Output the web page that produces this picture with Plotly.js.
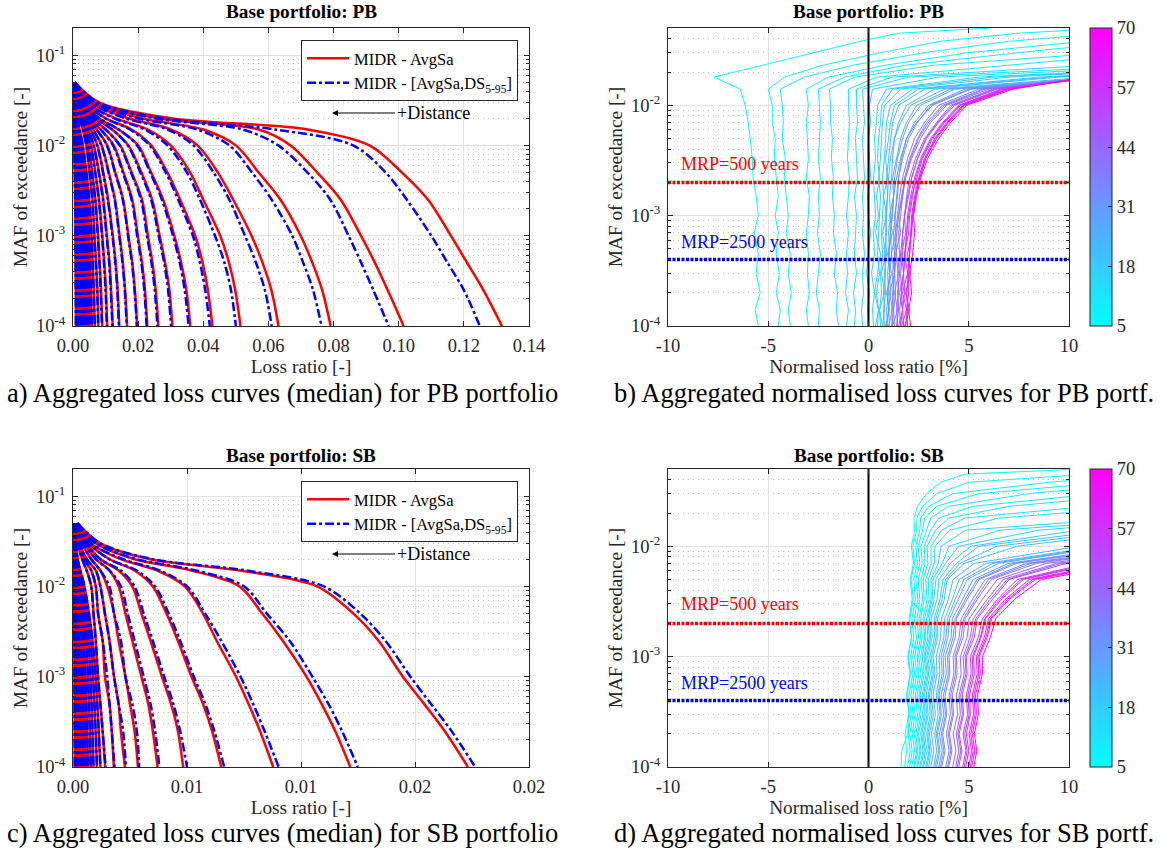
<!DOCTYPE html>
<html><head><meta charset="utf-8">
<script src="https://cdn.plot.ly/plotly-3.0.1.min.js"></script>
<style>html,body{margin:0;padding:0;background:#fff}#chart{width:1169px;height:852px}</style>
</head><body><div id="chart"></div>
<script>
// ================= DATA =================
// Left panels: loss ratio at fixed MAF levels (one array per curve)
const lossMAF   = [0.05, 0.03, 0.02, 0.015, 0.01, 0.005, 0.0025, 0.001, 0.0005, 0.00025, 0.0001];
const bundleMAF = [0.05, 0.02, 0.01, 0.002, 0.0001];

const pbRedCurves = [
  [0.0005,0.008,0.030,0.072,0.091,0.101,0.109,0.116,0.121,0.126,0.1317],
  [0.0005,0.007,0.026,0.057,0.0668,0.075,0.0822,0.0884,0.0927,0.0966,0.1015],
  [0.0005,0.006,0.021,0.040,0.050,0.057,0.0637,0.0699,0.0735,0.0765,0.0791],
  [0.0005,0.005,0.017,0.030,0.0382,0.0445,0.0492,0.0548,0.0582,0.0609,0.0631],
  [0.0004,0.004,0.013,0.023,0.030,0.036,0.040,0.0452,0.0479,0.0498,0.0514],
  [0.0004,0.0035,0.010,0.018,0.024,0.029,0.0329,0.0375,0.0398,0.0414,0.0428],
  [0.0004,0.003,0.008,0.014,0.020,0.024,0.0277,0.0311,0.0332,0.0348,0.036],
  [0.0003,0.0028,0.007,0.012,0.017,0.021,0.0243,0.0266,0.0283,0.0296,0.0305],
  [0.0003,0.0025,0.006,0.010,0.0145,0.018,0.0212,0.023,0.0244,0.0254,0.0262],
  [0.0003,0.0022,0.0052,0.0085,0.0125,0.0155,0.0182,0.0199,0.0212,0.0221,0.0228],
  [0.0003,0.002,0.0045,0.0073,0.0105,0.013,0.0154,0.017,0.0182,0.019,0.0197],
  [0.0003,0.0018,0.004,0.0062,0.0088,0.011,0.0129,0.0143,0.0153,0.016,0.0166],
  [0.0002,0.0016,0.0035,0.0054,0.0075,0.0093,0.0108,0.0122,0.0131,0.0137,0.0142],
  [0.0002,0.0014,0.003,0.0046,0.0064,0.008,0.0093,0.0104,0.0112,0.0117,0.0122],
  [0.0002,0.0012,0.0026,0.004,0.0055,0.0069,0.008,0.009,0.0096,0.0101,0.0105],
  [0.0002,0.0011,0.0023,0.0035,0.0047,0.0059,0.0069,0.0077,0.0082,0.0086,0.009],
  [0.0002,0.001,0.002,0.003,0.0041,0.0051,0.006,0.0066,0.0071,0.0075,0.0078]
];
const pbBlueCurves = [
  [0.0005,0.0075,0.028,0.062,0.086,0.096,0.1025,0.110,0.115,0.120,0.1249],
  [0.0005,0.007,0.025,0.052,0.063,0.072,0.079,0.0846,0.0885,0.0922,0.0969],
  [0.0005,0.006,0.020,0.038,0.048,0.055,0.061,0.0673,0.0707,0.0737,0.0763],
  [0.0005,0.005,0.016,0.029,0.037,0.0432,0.048,0.0528,0.0562,0.0589,0.061],
  [0.0004,0.004,0.0125,0.022,0.029,0.035,0.039,0.0436,0.0465,0.0485,0.050],
  [0.0004,0.0035,0.0098,0.0175,0.0235,0.0285,0.0323,0.0368,0.039,0.0406,0.042],
  [0.0004,0.003,0.008,0.014,0.0197,0.0237,0.0273,0.0307,0.0328,0.0343,0.0355],
  [0.0003,0.0028,0.007,0.012,0.0168,0.0207,0.024,0.0263,0.028,0.0292,0.0301],
  [0.0003,0.0025,0.006,0.010,0.0143,0.0178,0.0209,0.0227,0.0241,0.0251,0.0259],
  [0.0003,0.0022,0.0052,0.0085,0.0123,0.0153,0.018,0.0197,0.021,0.0219,0.0226],
  [0.0003,0.002,0.0045,0.0072,0.0104,0.0129,0.0153,0.0169,0.0181,0.0189,0.0196],
  [0.0003,0.0018,0.004,0.0062,0.0087,0.0109,0.0128,0.0142,0.0152,0.0159,0.0165],
  [0.0002,0.0016,0.0035,0.0054,0.0074,0.0092,0.0107,0.0121,0.013,0.0136,0.0141],
  [0.0002,0.0014,0.003,0.0046,0.0063,0.0079,0.0092,0.0103,0.0111,0.0116,0.0121],
  [0.0002,0.0012,0.0026,0.004,0.0054,0.0068,0.0079,0.0089,0.0095,0.01,0.0104],
  [0.0002,0.0011,0.0023,0.0035,0.0047,0.0058,0.0068,0.0076,0.0081,0.0085,0.0089],
  [0.0002,0.001,0.002,0.003,0.0041,0.0051,0.0059,0.0065,0.007,0.0074,0.0077]
];
const pbBundleCurves = [
  [0.0002,0.0013,0.003,0.0052,0.0067],
  [0.0002,0.0011,0.0026,0.0045,0.0058],
  [0.0002,0.001,0.0023,0.004,0.0051],
  [0.0001,0.0009,0.002,0.0035,0.0045],
  [0.0001,0.0008,0.0018,0.0031,0.004],
  [0.0001,0.0007,0.0016,0.0028,0.0036],
  [0.0001,0.0006,0.0014,0.0025,0.0032],
  [0.0001,0.0006,0.0013,0.0023,0.0029],
  [0.0001,0.0005,0.0012,0.002,0.0026],
  [0.0001,0.0005,0.001,0.0018,0.0023],
  [0.0001,0.0004,0.0009,0.0016,0.0021],
  [0.0001,0.0004,0.0009,0.0015,0.0019],
  [0.0001,0.0003,0.0008,0.0013,0.0017],
  [0.0001,0.0003,0.0007,0.0012,0.0015],
  [0.0001,0.0003,0.0006,0.001,0.0013],
  [0.0001,0.0002,0.0005,0.0009,0.0011],
  [0.0001,0.0002,0.0004,0.0007,0.0009]
];
const sbRedCurves = [
  [0.0002,0.0012,0.0034,0.0073,0.0107,0.0123,0.0134,0.01447,0.0154,0.0163,0.01732],
  [0.0002,0.001,0.0027,0.0052,0.0073,0.0083,0.0092,0.01024,0.0109,0.0115,0.01216],
  [0.0002,0.0008,0.0021,0.0037,0.0049,0.0057,0.0063,0.00715,0.0077,0.0082,0.00878],
  [0.00015,0.0007,0.0016,0.0027,0.0035,0.0041,0.0046,0.0052,0.0057,0.0061,0.0065],
  [0.00015,0.0006,0.0012,0.002,0.0026,0.003,0.0034,0.0039,0.0043,0.0046,0.00483],
  [0.0001,0.0005,0.001,0.0016,0.002,0.0023,0.0026,0.003,0.0033,0.0035,0.00371],
  [0.0001,0.0004,0.0008,0.0012,0.0015,0.0018,0.002,0.0023,0.0025,0.0027,0.00285],
  [0.0001,0.0003,0.0006,0.001,0.0012,0.0014,0.0016,0.0018,0.002,0.0021,0.00228],
  [0.0001,0.0003,0.0005,0.0008,0.001,0.0011,0.0013,0.0014,0.0016,0.0017,0.00179],
  [0.0001,0.0002,0.0004,0.0006,0.0008,0.0009,0.001,0.0011,0.0012,0.0013,0.00141]
];
const sbBlueCurves = [
  [0.0002,0.0012,0.0035,0.0076,0.011,0.0126,0.0137,0.0148,0.0157,0.0166,0.01764],
  [0.0002,0.001,0.0028,0.0054,0.0075,0.0085,0.0095,0.0105,0.0112,0.0118,0.01249],
  [0.0002,0.0008,0.0022,0.0038,0.005,0.0058,0.0065,0.00735,0.0079,0.0084,0.00902],
  [0.00015,0.0007,0.0016,0.0028,0.0036,0.0042,0.0047,0.0053,0.0058,0.0062,0.00663],
  [0.00015,0.0006,0.0012,0.0021,0.0027,0.0031,0.0035,0.004,0.0044,0.0047,0.005],
  [0.0001,0.0005,0.001,0.0016,0.0021,0.0024,0.0027,0.0031,0.0034,0.0036,0.00379],
  [0.0001,0.0004,0.0008,0.0012,0.0016,0.0018,0.0021,0.0023,0.0026,0.0028,0.0029],
  [0.0001,0.0003,0.0006,0.001,0.0012,0.0014,0.0016,0.0018,0.002,0.0022,0.00232],
  [0.0001,0.0003,0.0005,0.0008,0.001,0.0011,0.0013,0.0015,0.0016,0.0017,0.00182],
  [0.0001,0.0002,0.0004,0.0006,0.0008,0.0009,0.001,0.0011,0.0012,0.0013,0.00143]
];
const sbBundleCurves = [
  [0.00005,0.0002,0.0005,0.0009,0.0012],
  [0.00005,0.0002,0.00045,0.0008,0.00105],
  [0.00005,0.00017,0.0004,0.0007,0.0009],
  [0.00004,0.00015,0.00035,0.0006,0.00078],
  [0.00004,0.00013,0.0003,0.0005,0.00066],
  [0.00004,0.00011,0.00025,0.00043,0.00056],
  [0.00003,0.0001,0.00021,0.00036,0.00047],
  [0.00003,0.00008,0.00018,0.0003,0.00039],
  [0.00003,0.00007,0.00015,0.00025,0.00032],
  [0.00002,0.00005,0.00012,0.0002,0.00025],
  [0.00002,0.00004,0.00009,0.00015,0.00019],
  [0.00002,0.00003,0.00006,0.0001,0.00013],
  [0.00001,0.00002,0.00004,0.00006,0.00008]
];

// Right panels: normalised loss ratio [%] at fixed MAF levels, one curve per distance [km]
const normMAF  = [1e-4,1.4e-4,2e-4,3e-4,4.5e-4,7e-4,1e-3,1.5e-3,2.2e-3,3.3e-3,5e-3,7e-3,0.01,0.014,0.018,0.023,0.03,0.038,0.045,0.05];
const distances = [5,6,7,8,9,10,11,12,13,14,15,16,17,19,20,21,23,25,27,28,31,33,34,37,39,40,43,46,48,50,54,56,58,62,64,66,70];
const pbNormCurves = [
  [-5.5,-5.65,-5.4,-5.6,-5.5,-5.7,-5.5,-5.6,-5.75,-5.8,-5.9,-6.0,-6.15,-6.4,-7.7,-5.3,-2.8,-0.4,1.5,6.0],
  [-4.5,-4.4,-4.6,-4.45,-4.6,-4.5,-4.65,-4.5,-4.6,-4.7,-4.65,-4.8,-4.8,-5.0,-4.2,-2.3,0.6,3.6,7.5,12.0],
  [-3.9,-4.0,-3.85,-4.0,-3.9,-4.1,-4.0,-4.1,-4.2,-4.15,-4.3,-4.25,-4.3,-4.4,-3.2,-0.8,2.8,7.0,12.0],
  [-3.0,-3.1,-2.95,-3.05,-3.0,-3.1,-3.0,-2.95,-3.1,-3.0,-3.05,-3.1,-3.0,-3.1,-2.0,0.8,5.0,10.8],
  [-2.5,-2.45,-2.6,-2.5,-2.4,-2.55,-2.45,-2.5,-2.4,-2.5,-2.45,-2.4,-2.45,-2.5,-1.2,1.8,7.5,13.0],
  [-1.5,-1.6,-1.55,-1.7,-1.6,-1.75,-1.7,-1.8,-1.75,-1.85,-1.8,-1.9,-1.9,-1.95,-0.7,3.2,12.0],
  [-1.1,-1.0,-1.15,-1.05,-1.1,-1.0,-1.1,-1.0,-0.95,-1.05,-1.0,-0.95,-1.0,-1.0,0.4,7.0,14.0],
  [-0.7,-0.65,-0.75,-0.6,-0.7,-0.65,-0.6,-0.7,-0.55,-0.6,-0.65,-0.55,-0.6,-0.6,1.2,11.0],
  [-0.3,-0.35,-0.25,-0.3,-0.2,-0.3,-0.25,-0.3,-0.2,-0.25,-0.3,-0.2,-0.25,-0.3,2.0,14.0],
  [0.0,-0.05,0.05,-0.1,0.0,0.1,0.0,-0.05,0.1,0.05,0.0,0.1,0.05,0.2,3.5,16.0],
  [0.25,0.2,0.3,0.15,0.3,0.25,0.35,0.3,0.25,0.35,0.3,0.4,0.45,0.9,5.5,18.0],
  [0.35,0.5,0.3,0.45,0.6,0.35,0.5,0.4,0.55,0.45,0.5,0.6,0.65,1.2,6.2,18.0],
  [0.45,0.5,0.4,0.55,0.45,0.5,0.55,0.6,0.5,0.6,0.65,0.7,0.8,1.6,7.0,18.0],
  [0.6,0.55,0.65,0.6,0.7,0.65,0.7,0.75,0.7,0.8,0.85,0.9,1.1,2.2,8.5,20.0],
  [0.7,0.55,0.8,0.65,0.85,0.7,0.9,0.75,0.95,0.85,1.0,1.1,1.3,2.5,9.0,21.0],
  [0.8,0.75,0.85,0.8,0.9,0.85,0.9,0.95,0.9,1.0,1.1,1.2,1.5,2.8,9.5,22.0],
  [0.95,0.9,1.0,0.95,1.05,1.0,1.1,1.05,1.15,1.2,1.3,1.5,1.9,3.3,11.0],
  [0.7,0.8,0.75,0.85,0.8,0.9,0.85,0.95,1.0,1.1,1.3,1.6,2.1,3.8,11.5],
  [0.85,1.05,0.9,1.15,0.95,1.2,1.05,1.25,1.2,1.4,1.6,1.9,2.4,4.1,12.0],
  [1.05,1.0,1.1,1.05,1.15,1.1,1.2,1.25,1.3,1.45,1.7,2.0,2.6,4.3,12.0],
  [1.2,1.15,1.25,1.2,1.3,1.25,1.35,1.4,1.5,1.65,1.9,2.3,3.0,4.8,12.0],
  [1.0,1.2,1.05,1.3,1.15,1.35,1.3,1.45,1.5,1.7,2.0,2.45,3.1,5.0,12.0],
  [0.9,1.0,0.95,1.05,1.0,1.1,1.15,1.25,1.4,1.6,1.9,2.4,3.2,5.1,12.0],
  [1.3,1.25,1.35,1.3,1.4,1.35,1.45,1.55,1.7,1.95,2.3,2.8,3.5,5.5,12.0],
  [1.2,1.45,1.3,1.5,1.35,1.6,1.5,1.7,1.8,2.05,2.45,2.9,3.7,5.7,12.0],
  [1.45,1.4,1.5,1.45,1.55,1.5,1.6,1.7,1.85,2.1,2.5,3.0,3.8,5.8,12.0],
  [1.15,1.25,1.2,1.3,1.3,1.4,1.5,1.65,1.85,2.15,2.6,3.1,3.9,6.0,11.5],
  [1.6,1.55,1.65,1.6,1.7,1.7,1.8,1.9,2.05,2.35,2.8,3.4,4.1,6.2,11.5],
  [1.5,1.7,1.55,1.75,1.65,1.85,1.8,2.0,2.15,2.45,2.85,3.45,4.2,6.3,11.5],
  [1.4,1.5,1.45,1.55,1.6,1.7,1.8,1.95,2.15,2.45,2.9,3.5,4.3,6.4,11.5],
  [1.75,1.7,1.8,1.75,1.85,1.9,1.95,2.1,2.3,2.6,3.1,3.7,4.5,6.6,11.0],
  [1.65,1.9,1.7,1.95,1.8,2.0,2.05,2.2,2.35,2.65,3.15,3.75,4.55,6.7,11.0],
  [1.6,1.7,1.65,1.75,1.8,1.9,2.0,2.15,2.4,2.7,3.2,3.8,4.6,6.8,11.0],
  [1.95,1.9,2.0,1.95,2.05,2.1,2.15,2.3,2.5,2.8,3.3,3.9,4.7,6.9,11.0],
  [1.8,2.05,1.85,2.1,1.95,2.15,2.2,2.35,2.55,2.85,3.35,3.95,4.75,7.0,11.0],
  [1.85,1.95,1.9,2.0,2.05,2.15,2.2,2.35,2.55,2.85,3.4,4.0,4.8,7.0,11.0],
  [2.1,2.0,2.15,2.05,2.2,2.3,2.25,2.4,2.6,2.95,3.5,4.1,4.9,7.2,11.0]
];
const sbNormCurves = [
  [1.62,1.66,1.95,2.05,1.9,2.08,1.95,2.15,2.02,2.18,2.08,2.24,2.14,2.3,2.26,2.45,2.9,3.6,4.8,10.5],
  [1.8,1.9,1.82,2.02,1.9,2.1,2.0,2.14,2.06,2.24,2.12,2.3,2.22,2.4,2.42,2.7,3.4,5.0,11.0],
  [1.95,2.08,1.98,2.12,2.02,2.22,2.1,2.26,2.16,2.34,2.26,2.44,2.36,2.56,2.6,3.0,4.2,9.0,14.0],
  [2.05,2.18,2.06,2.22,2.12,2.3,2.2,2.4,2.28,2.46,2.36,2.56,2.48,2.7,2.8,3.4,5.5,12.0],
  [2.15,2.3,2.18,2.32,2.22,2.42,2.3,2.5,2.42,2.56,2.48,2.68,2.62,2.9,3.1,4.0,8.0,14.0],
  [2.25,2.4,2.28,2.44,2.34,2.52,2.42,2.6,2.52,2.7,2.62,2.82,2.78,3.1,3.5,5.2,11.5],
  [2.3,2.46,2.36,2.54,2.42,2.62,2.5,2.68,2.6,2.78,2.72,2.96,2.92,3.35,4.0,7.0,14.0],
  [2.4,2.56,2.44,2.62,2.52,2.7,2.6,2.8,2.72,2.92,2.86,3.12,3.12,3.65,4.8,11.0],
  [2.45,2.62,2.5,2.7,2.58,2.78,2.68,2.86,2.8,3.02,2.98,3.28,3.32,4.05,6.5,14.0],
  [2.55,2.72,2.6,2.78,2.68,2.88,2.76,2.96,2.9,3.12,3.12,3.48,3.62,4.85,13.0],
  [2.6,2.78,2.66,2.84,2.74,2.94,2.82,3.04,2.96,3.18,3.22,3.68,4.02,6.55,15.0],
  [2.7,2.84,2.74,2.92,2.8,3.0,2.9,3.1,3.04,3.26,3.36,3.84,4.5,8.5,16.0],
  [2.75,2.92,2.8,2.98,2.88,3.08,2.96,3.18,3.12,3.42,3.52,4.08,5.1,10.5],
  [2.85,3.02,2.9,3.08,2.98,3.18,3.06,3.3,3.28,3.56,3.72,4.38,5.5,12.0],
  [2.92,3.06,2.96,3.16,3.04,3.24,3.14,3.38,3.36,3.66,3.84,4.56,6.4,13.0],
  [3.0,3.14,3.04,3.24,3.12,3.32,3.22,3.46,3.44,3.78,3.92,4.78,7.4,14.0],
  [3.1,3.26,3.14,3.34,3.22,3.42,3.38,3.6,3.64,3.98,4.22,5.28,10.5],
  [3.25,3.4,3.3,3.48,3.38,3.56,3.52,3.76,3.8,4.18,4.52,5.88,11.5],
  [3.32,3.5,3.38,3.58,3.46,3.68,3.62,3.86,3.94,4.32,4.76,6.2,11.8],
  [3.4,3.56,3.44,3.64,3.52,3.76,3.72,3.96,4.04,4.48,4.92,6.48,12.0],
  [3.5,3.68,3.54,3.76,3.62,3.88,3.82,4.12,4.18,4.68,5.22,6.98,13.0],
  [3.58,3.76,3.64,3.84,3.74,3.98,3.94,4.22,4.32,4.82,5.42,7.2,13.2],
  [3.65,3.82,3.7,3.9,3.82,4.06,4.02,4.32,4.38,4.92,5.52,7.38,13.5],
  [3.85,4.02,3.88,4.08,4.02,4.26,4.22,4.52,4.62,5.18,5.82,7.88,14.0],
  [3.94,4.1,3.98,4.18,4.1,4.34,4.32,4.62,4.74,5.32,5.98,8.1,14.5],
  [4.0,4.16,4.04,4.24,4.18,4.42,4.38,4.72,4.82,5.42,6.12,8.38,15.0],
  [4.2,4.36,4.22,4.44,4.38,4.62,4.58,4.92,5.02,5.68,6.42,8.88,16.0],
  [4.35,4.5,4.38,4.58,4.52,4.78,4.72,5.08,5.22,5.92,6.72,9.38,17.0],
  [4.42,4.6,4.46,4.68,4.6,4.86,4.82,5.18,5.34,6.06,6.92,9.6,17.5],
  [4.5,4.66,4.52,4.74,4.68,4.92,4.88,5.28,5.42,6.18,7.02,9.88,18.0],
  [4.7,4.86,4.72,4.94,4.88,5.12,5.08,5.48,5.68,6.42,7.42,11.0],
  [4.78,4.92,4.8,5.02,4.96,5.2,5.18,5.58,5.8,6.52,7.62,11.2],
  [4.85,5.0,4.88,5.08,5.04,5.28,5.24,5.62,5.84,6.62,7.72,11.5],
  [5.0,5.14,5.02,5.24,5.18,5.42,5.38,5.78,5.98,6.82,8.02,12.0],
  [5.08,5.22,5.1,5.32,5.26,5.5,5.46,5.86,6.08,6.92,8.2,12.2],
  [5.15,5.3,5.18,5.38,5.34,5.58,5.52,5.92,6.14,7.02,8.32,12.5],
  [5.25,5.4,5.28,5.48,5.44,5.68,5.68,6.08,6.34,7.28,8.62,13.0]
];
const mrpYears = [500, 2500];
const mrpLabels = ['MRP=500 years', 'MRP=2500 years'];
const colorbarTicks = [5, 18, 31, 44, 57, 70];
const pbLossTicks = [0, 0.02, 0.04, 0.06, 0.08, 0.10, 0.12, 0.14];
const pbLossTickText = ['0.00','0.02','0.04','0.06','0.08','0.10','0.12','0.14'];
const sbLossTicks = [0, 0.005, 0.01, 0.015, 0.02];
const sbLossTickText = ['0.00','0.01','0.01','0.02','0.02'];
const normTicks = [-10, -5, 0, 5, 10];
const normTickText = ['-10','-5','0','5','10'];

// ================= BUILD =================
const F = 'Liberation Serif, Times New Roman, serif';
const INK = '#262626';
const TICK = 18.5;
function joinCurves(groups){
  const x = [], y = [];
  groups.forEach(([curves, levels]) => {
    curves.forEach(c => {
      c.forEach((v, i) => { x.push(v); y.push(levels[i]); });
      x.push(null); y.push(null);
    });
  });
  return {x, y};
}
function coolColor(d){
  const t = (d - 5) / 65;
  return 'rgb(' + Math.round(255 * t) + ',' + Math.round(255 * (1 - t)) + ',255)';
}
const traces = [];
function lossPanel(red, blue, bundle, xa, ya, legendName){
  const r = joinCurves([[red, lossMAF], [bundle, bundleMAF]]);
  const b = joinCurves([[blue, lossMAF], [bundle, bundleMAF]]);
  traces.push({type:'scatter', mode:'lines', x:r.x, y:r.y, xaxis:xa, yaxis:ya, name:'MIDR - AvgSa',
    line:{color:'rgb(255,0,0)', width:2.5, shape:'spline', smoothing:0.9}, legend:legendName, hoverinfo:'skip', connectgaps:false});
  traces.push({type:'scatter', mode:'lines', x:b.x, y:b.y, xaxis:xa, yaxis:ya, name:'MIDR - [AvgSa,DS<sub>5-95</sub>]',
    line:{color:'rgb(0,0,255)', width:2.5, dash:'dashdot', shape:'spline', smoothing:0.9}, legend:legendName, hoverinfo:'skip', connectgaps:false});
}
lossPanel(pbRedCurves, pbBlueCurves, pbBundleCurves, 'x', 'y', 'legend');
lossPanel(sbRedCurves, sbBlueCurves, sbBundleCurves, 'x3', 'y3', 'legend2');

function normPanel(curves, xa, ya, cbY){
  curves.forEach((c, k) => {
    traces.push({type:'scatter', mode:'lines', x:c, y:normMAF.slice(0, c.length), xaxis:xa, yaxis:ya,
      line:{color:coolColor(distances[k]), width:1}, showlegend:false, hoverinfo:'skip'});
  });
  mrpYears.forEach((yr, i) => {
    traces.push({type:'scatter', mode:'lines', x:[-10, 10], y:[1/yr, 1/yr], xaxis:xa, yaxis:ya,
      line:{color: i === 0 ? 'rgb(255,0,0)' : 'rgb(0,0,255)', width:3.5, dash:'3px,1.5px'}, showlegend:false, hoverinfo:'skip'});
  });
  traces.push({type:'scatter', mode:'lines', x:[0, 0], y:[1e-4, 0.0501], xaxis:xa, yaxis:ya,
    line:{color:'#000', width:2}, showlegend:false, hoverinfo:'skip'});
  traces.push({type:'scatter', mode:'markers', x:[-20, -20], y:[1e-5, 1e-5], xaxis:xa, yaxis:ya, showlegend:false, hoverinfo:'skip',
    marker:{color:[5, 70], cmin:5, cmax:70, colorscale:[[0,'rgb(0,255,255)'],[1,'rgb(255,0,255)']], showscale:true,
      colorbar:{thickness:22, thicknessmode:'pixels', len:298/852, lenmode:'fraction', x:1090/1169, xanchor:'left',
        y:cbY, yanchor:'middle', outlinewidth:1, outlinecolor:INK, tickmode:'array', tickvals:colorbarTicks,
        ticks:'inside', ticklen:4, tickcolor:INK, tickfont:{family:F, size:TICK, color:INK}, xpad:0, ypad:0, borderwidth:0}}});
}
normPanel(pbNormCurves, 'x2', 'y2', 1 - 177/852);
normPanel(sbNormCurves, 'x4', 'y4', 1 - 618/852);

// axes
function minorLog(lo, hi){ const v = []; for (let e = lo; e <= hi; e++) for (let m = 2; m <= 9; m++) v.push(m * Math.pow(10, e)); return v; }
const axBase = {showline:true, linecolor:INK, linewidth:1, mirror:'ticks', ticks:'inside', ticklen:5, tickcolor:INK,
  showgrid:true, gridcolor:'#e2e2e2', gridwidth:1, zeroline:false, tickfont:{family:F, size:TICK, color:INK}, fixedrange:true};
function xAx(domain, range, tv, tt, title){
  return Object.assign({}, axBase, {domain, range, tickmode:'array', tickvals:tv, ticktext:tt, ticklabelstandoff:3,
    title:{text:title, font:{family:F, size:19.3, color:INK}, standoff:4}});
}
function yAx(domain, range, tv, tt, minors){
  return Object.assign({}, axBase, {domain, range, type:'log', tickmode:'array', tickvals:tv, ticktext:tt, ticklabelstandoff:3,
    title:{text:'MAF of exceedance [-]', font:{family:F, size:19.3, color:INK}, standoff:3},
    minor:{tickmode:'array', tickvals:minors, ticks:'inside', ticklen:3, tickcolor:INK, showgrid:true, gridcolor:'#bdbdbd', griddash:'1px,4px', gridwidth:1}});
}
const dL = [73/1169, 529/1169], dR = [668/1169, 1069/1169];
const dT = [1 - 326/852, 1 - 28/852], dB = [1 - 767/852, 1 - 469/852];
const logTick4 = [1e-4, 1e-3, 1e-2, 1e-1], logText4 = ['10<sup>-4</sup>','10<sup>-3</sup>','10<sup>-2</sup>','10<sup>-1</sup>'];
const logTick3 = [1e-4, 1e-3, 1e-2], logText3 = ['10<sup>-4</sup>','10<sup>-3</sup>','10<sup>-2</sup>'];

const annotations = [];
function ann(text, x, y, size, opts){ annotations.push(Object.assign({text, x, y, xref:'paper', yref:'paper', showarrow:false,
  xanchor:'center', yanchor:'middle', font:{family:F, size, color:'#000'}}, opts || {})); }
ann('<b>Base portfolio: PB</b>', 301/1169, 1 - 12/852, 19.3);
ann('<b>Base portfolio: PB</b>', 868.5/1169, 1 - 12/852, 19.3);
ann('<b>Base portfolio: SB</b>', 301/1169, 1 - 455/852, 19.3);
ann('<b>Base portfolio: SB</b>', 868.5/1169, 1 - 455/852, 19.3);
ann('a) Aggregated loss curves (median) for PB portfolio', 5/1169, 1 - 393/852, 26.5, {xanchor:'left'});
ann('b) Aggregated normalised loss curves for PB portf.', 612/1169, 1 - 393/852, 26.5, {xanchor:'left'});
ann('c) Aggregated loss curves (median) for SB portfolio', 5/1169, 1 - 833/852, 26.5, {xanchor:'left'});
ann('d) Aggregated normalised loss curves for SB portf.', 612/1169, 1 - 833/852, 26.5, {xanchor:'left'});
[113, 554].forEach(py => {
  annotations.push({text:'+Distance', x:332/1169, y:1 - py/852, xref:'paper', yref:'paper', showarrow:true, ax:101, ay:0,
    xanchor:'center', yanchor:'middle', arrowhead:2, arrowsize:1.2, arrowwidth:1, arrowcolor:'#000', font:{family:F, size:18, color:'#000'}});
});
[[164, 242], [604, 683]].forEach(pys => {
  pys.forEach((py, i) => ann(mrpLabels[i], 679/1169, 1 - py/852, 18,
    {xanchor:'left', font:{family:F, size:18, color: i === 0 ? 'rgb(255,0,0)' : 'rgb(0,0,255)'}}));
});

const legBase = {xanchor:'left', yanchor:'top', bgcolor:'#fff', bordercolor:INK, borderwidth:1, itemwidth:42,
  font:{family:F, size:16.5, color:'#000'}, tracegroupgap:0};
const layout = {
  width:1169, height:852, margin:{l:0, r:0, t:0, b:0}, paper_bgcolor:'#fff', plot_bgcolor:'#fff',
  font:{family:F, color:INK}, showlegend:true,
  legend:Object.assign({x:301/1169, y:1 - 40/852}, legBase),
  legend2:Object.assign({x:301/1169, y:1 - 481/852}, legBase),
  xaxis: Object.assign(xAx(dL, [0, 0.14], pbLossTicks, pbLossTickText, 'Loss ratio [-]'), {anchor:'y'}),
  yaxis: Object.assign(yAx(dT, [-4, -0.7], logTick4, logText4, minorLog(-4, -1)), {anchor:'x'}),
  xaxis2:Object.assign(xAx(dR, [-10, 10], normTicks, normTickText, 'Normalised loss ratio [%]'), {anchor:'y2'}),
  yaxis2:Object.assign(yAx(dT, [-4, -1.3], logTick3, logText3, minorLog(-4, -2)), {anchor:'x2'}),
  xaxis3:Object.assign(xAx(dL, [0, 0.02], sbLossTicks, sbLossTickText, 'Loss ratio [-]'), {anchor:'y3'}),
  yaxis3:Object.assign(yAx(dB, [-4, -0.7], logTick4, logText4, minorLog(-4, -1)), {anchor:'x3'}),
  xaxis4:Object.assign(xAx(dR, [-10, 10], normTicks, normTickText, 'Normalised loss ratio [%]'), {anchor:'y4'}),
  yaxis4:Object.assign(yAx(dB, [-4, -1.3], logTick3, logText3, minorLog(-4, -2)), {anchor:'x4'}),
  annotations
};
Plotly.newPlot('chart', traces, layout, {displayModeBar:false, staticPlot:true});
</script></body></html>
